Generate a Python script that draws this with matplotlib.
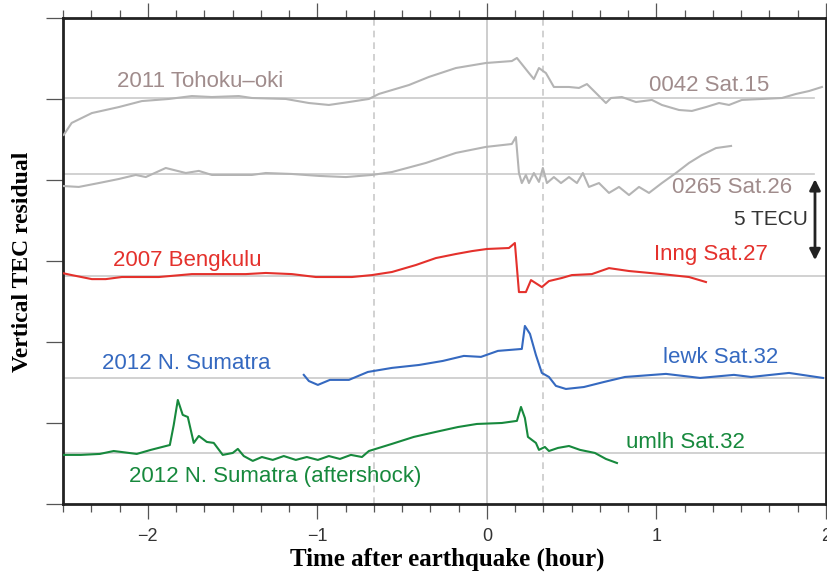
import matplotlib.pyplot as plt
from matplotlib.ticker import MultipleLocator, NullFormatter
import numpy as np


# time after mainshock (hour) and TEC residual above each trace's baseline (TECU)
T_0042 = [-2.496, -2.449, -2.330, -2.171, -2.035, -1.876, -1.740, -1.622, -1.463, -1.386,
          -1.186, -1.050, -0.932, -0.814, -0.696, -0.637, -0.460, -0.342, -0.183, -0.006,
          0.147, 0.177, 0.248, 0.277, 0.307, 0.348, 0.395, 0.484, 0.543, 0.590,
          0.643, 0.702, 0.732, 0.796, 0.879, 0.973, 1.032, 1.133, 1.209, 1.292,
          1.369, 1.428, 1.504, 1.622, 1.740, 1.823, 1.900, 1.976]
V_0042 = [-2.28, -1.54, -0.93, -0.56, -0.19, -0.06, 0.12, 0.06, 0.12, 0.00,
          -0.06, -0.31, -0.43, -0.25, -0.06, 0.25, 0.80, 1.30, 1.85, 2.16,
          2.28, 2.47, 1.54, 1.17, 1.85, 1.54, 0.68, 0.68, 0.62, 0.86,
          0.31, -0.31, 0.00, 0.06, -0.25, -0.12, -0.43, -0.74, -0.80, -0.56,
          -0.31, -0.43, -0.12, -0.06, 0.00, 0.25, 0.43, 0.68]

T_0265 = [-2.507, -2.407, -2.289, -2.171, -2.071, -2.012, -1.894, -1.776, -1.699, -1.622,
          -1.386, -1.304, -1.150, -0.991, -0.832, -0.678, -0.560, -0.360, -0.183, -0.006,
          0.147, 0.171, 0.189, 0.206, 0.230, 0.248, 0.277, 0.307, 0.330, 0.354,
          0.395, 0.437, 0.484, 0.531, 0.566, 0.602, 0.661, 0.720, 0.779, 0.838,
          0.897, 0.956, 1.032, 1.115, 1.192, 1.268, 1.351, 1.440]
V_0265 = [-0.74, -0.80, -0.56, -0.31, -0.06, -0.19, 0.37, 0.06, 0.19, -0.06,
          -0.06, 0.06, 0.00, -0.12, -0.19, -0.06, 0.12, 0.68, 1.30, 1.67,
          1.85, 2.28, 0.06, -0.56, -0.06, -0.56, 0.06, -0.49, 0.37, -0.56,
          -0.19, -0.56, -0.19, -0.56, 0.06, -0.80, -0.56, -1.17, -0.80, -1.30,
          -0.80, -1.17, -0.56, 0.06, 0.68, 1.17, 1.60, 1.73]

T_INNG = [-2.507, -2.449, -2.330, -2.248, -2.153, -2.035, -1.935, -1.740, -1.540, -1.422,
          -1.304, -1.150, -1.009, -0.796, -0.678, -0.560, -0.419, -0.301, -0.183, -0.088,
          0.000, 0.130, 0.165, 0.189, 0.230, 0.260, 0.324, 0.366, 0.442, 0.501,
          0.619, 0.720, 0.838, 1.032, 1.192, 1.292]
V_INNG = [0.19, 0.06, -0.19, -0.19, -0.06, -0.06, -0.06, 0.12, 0.12, 0.12,
          0.19, 0.12, -0.06, -0.06, 0.06, 0.25, 0.68, 1.11, 1.36, 1.54,
          1.67, 1.73, 2.04, -0.99, -0.99, -0.25, -0.68, -0.31, -0.12, 0.06,
          0.12, 0.49, 0.31, 0.12, -0.06, -0.37]

T_LEWK = [-1.080, -1.050, -0.997, -0.926, -0.814, -0.702, -0.560, -0.401, -0.260, -0.136,
          -0.035, 0.065, 0.206, 0.224, 0.254, 0.289, 0.324, 0.366, 0.407, 0.466,
          0.572, 0.690, 0.814, 1.056, 1.257, 1.457, 1.558, 1.782, 1.982]
V_LEWK = [0.19, -0.19, -0.43, -0.12, -0.12, 0.37, 0.62, 0.80, 1.05, 1.36,
          1.30, 1.67, 1.79, 3.21, 2.72, 1.42, 0.31, 0.06, -0.49, -0.68,
          -0.56, -0.25, 0.06, 0.25, 0.00, 0.19, 0.06, 0.31, 0.00]

T_UMLH = [-2.501, -2.395, -2.283, -2.201, -2.065, -1.982, -1.870, -1.847, -1.823, -1.794,
          -1.764, -1.729, -1.699, -1.652, -1.611, -1.558, -1.499, -1.469, -1.434, -1.381,
          -1.327, -1.263, -1.198, -1.127, -1.062, -0.997, -0.932, -0.867, -0.802, -0.737,
          -0.696, -0.560, -0.431, -0.301, -0.171, -0.059, 0.088, 0.177, 0.201, 0.224,
          0.242, 0.289, 0.307, 0.342, 0.366, 0.419, 0.484, 0.549, 0.637, 0.702, 0.767]
V_UMLH = [-0.12, -0.12, -0.06, 0.12, -0.06, 0.19, 0.49, 1.73, 3.27, 2.35,
          2.22, 0.62, 1.05, 0.68, 0.62, -0.12, 0.00, 0.25, -0.19, -0.49,
          -0.25, -0.43, -0.19, -0.43, -0.25, -0.43, -0.19, -0.37, -0.12, -0.25,
          0.12, 0.56, 0.99, 1.30, 1.60, 1.79, 1.85, 1.98, 2.84, 2.16,
          0.99, 0.62, 0.19, 0.37, 0.12, 0.31, 0.43, 0.19, 0.00, -0.37, -0.62]

# vertical offset of each trace (TECU)
BASE_0042 = 25.06
BASE_0265 = 20.37
BASE_INNG = 14.07
BASE_LEWK = 7.78
BASE_UMLH = 3.15

SCALE_TECU = 5
MARKERS = [-2 / 3, 1 / 3]

GRAY = "#b4b4b4"
GRID = "#c9c9c9"
TXT_GRAY = "#a08c8c"
RED = "#e4312c"
BLUE = "#3569c0"
GREEN = "#17893d"

fig = plt.figure(figsize=(8.27, 5.72), dpi=100)
ax = fig.add_axes([0.0762, 0.1189, 0.9226, 0.8497])
ax.set_xlim(-2.5, 2)
ax.set_ylim(0, 30)

# baselines and time markers
for base, x_end in [(BASE_0042, 1.93), (BASE_0265, 1.93), (BASE_INNG, 2),
                    (BASE_LEWK, 2), (BASE_UMLH, 2)]:
    ax.plot([-2.5, x_end], [base, base], color=GRID, lw=1.2, zorder=1)
ax.axvline(0, color=GRID, lw=1.3, zorder=1)
for xm in MARKERS:
    ax.axvline(xm, color=GRID, lw=1.2, ls=(0, (4, 3)), zorder=1)

traces = [
    (T_0042, V_0042, BASE_0042, GRAY),
    (T_0265, V_0265, BASE_0265, GRAY),
    (T_INNG, V_INNG, BASE_INNG, RED),
    (T_LEWK, V_LEWK, BASE_LEWK, BLUE),
    (T_UMLH, V_UMLH, BASE_UMLH, GREEN),
]
for t, v, base, color in traces:
    ax.plot(t, base + np.asarray(v), color=color, lw=1.5, zorder=3)

lab = dict(fontsize=16, family="Liberation Sans", ha="center", va="center")
ax.text(-1.693, BASE_0042 + 0.99, "2011 Tohoku\u2013oki", color=TXT_GRAY, **lab)
ax.text(1.310, BASE_0042 + 0.80, "0042 Sat.15", color=TXT_GRAY, **lab)
ax.text(1.445, BASE_0265 - 0.86, "0265 Sat.26", color=TXT_GRAY, **lab)
ax.text(-1.770, BASE_INNG + 0.99, "2007 Bengkulu", color=RED, **lab)
ax.text(1.322, BASE_INNG + 1.30, "Inng Sat.27", color=RED, **lab)
ax.text(-1.776, BASE_LEWK + 0.92, "2012 N. Sumatra", color=BLUE, **lab)
ax.text(1.381, BASE_LEWK + 1.29, "lewk Sat.32", color=BLUE, **lab)
ax.text(-1.251, BASE_UMLH - 1.48, "2012 N. Sumatra (aftershock)", color=GREEN, **lab)
ax.text(1.168, BASE_UMLH + 0.62, "umlh Sat.32", color=GREEN, **lab)

# 5 TECU scale bar
y_mid = 17.55
ax.annotate("", xy=(1.935, y_mid - SCALE_TECU / 2), xytext=(1.935, y_mid + SCALE_TECU / 2),
            arrowprops=dict(arrowstyle="<|-|>", color="#222222", lw=2, mutation_scale=16,
                            shrinkA=0, shrinkB=0), zorder=4)
ax.text(1.676, y_mid, f"{SCALE_TECU} TECU", color="#333333", fontsize=15,
        family="Liberation Sans", ha="center", va="center")

# axes frame and ticks
for sp in ax.spines.values():
    sp.set_linewidth(2)
    sp.set_color("#222222")
ax.xaxis.set_major_locator(MultipleLocator(1))
ax.xaxis.set_minor_locator(MultipleLocator(1 / 6))
ax.yaxis.set_major_locator(MultipleLocator(SCALE_TECU))
ax.yaxis.set_major_formatter(NullFormatter())
ax.tick_params(axis="x", which="both", direction="out", top=True, bottom=True,
               color="#555555", width=0.9)
ax.tick_params(axis="x", which="major", length=11, pad=6, labelsize=13,
               labelcolor="#333333")
ax.tick_params(axis="x", which="minor", length=6)
ax.tick_params(axis="y", which="major", direction="out", left=True, right=False,
               length=12, color="#555555", width=0.9)
ax.set_xticks([-2, -1, 0, 1, 2])
ax.set_xticklabels(["\u22122", "\u22121", "0", "1", "2"], family="Liberation Sans")

ax.set_xlabel("Time after earthquake (hour)", fontsize=18, fontweight="bold",
              family="Liberation Serif", va="baseline")
ax.xaxis.set_label_coords(0.503, -0.1276)
ax.set_ylabel("Vertical TEC residual", fontsize=17, fontweight="bold",
              family="Liberation Serif")
ax.yaxis.set_label_coords(-0.039, 0.498)

fig.savefig("out.png", dpi=100)
